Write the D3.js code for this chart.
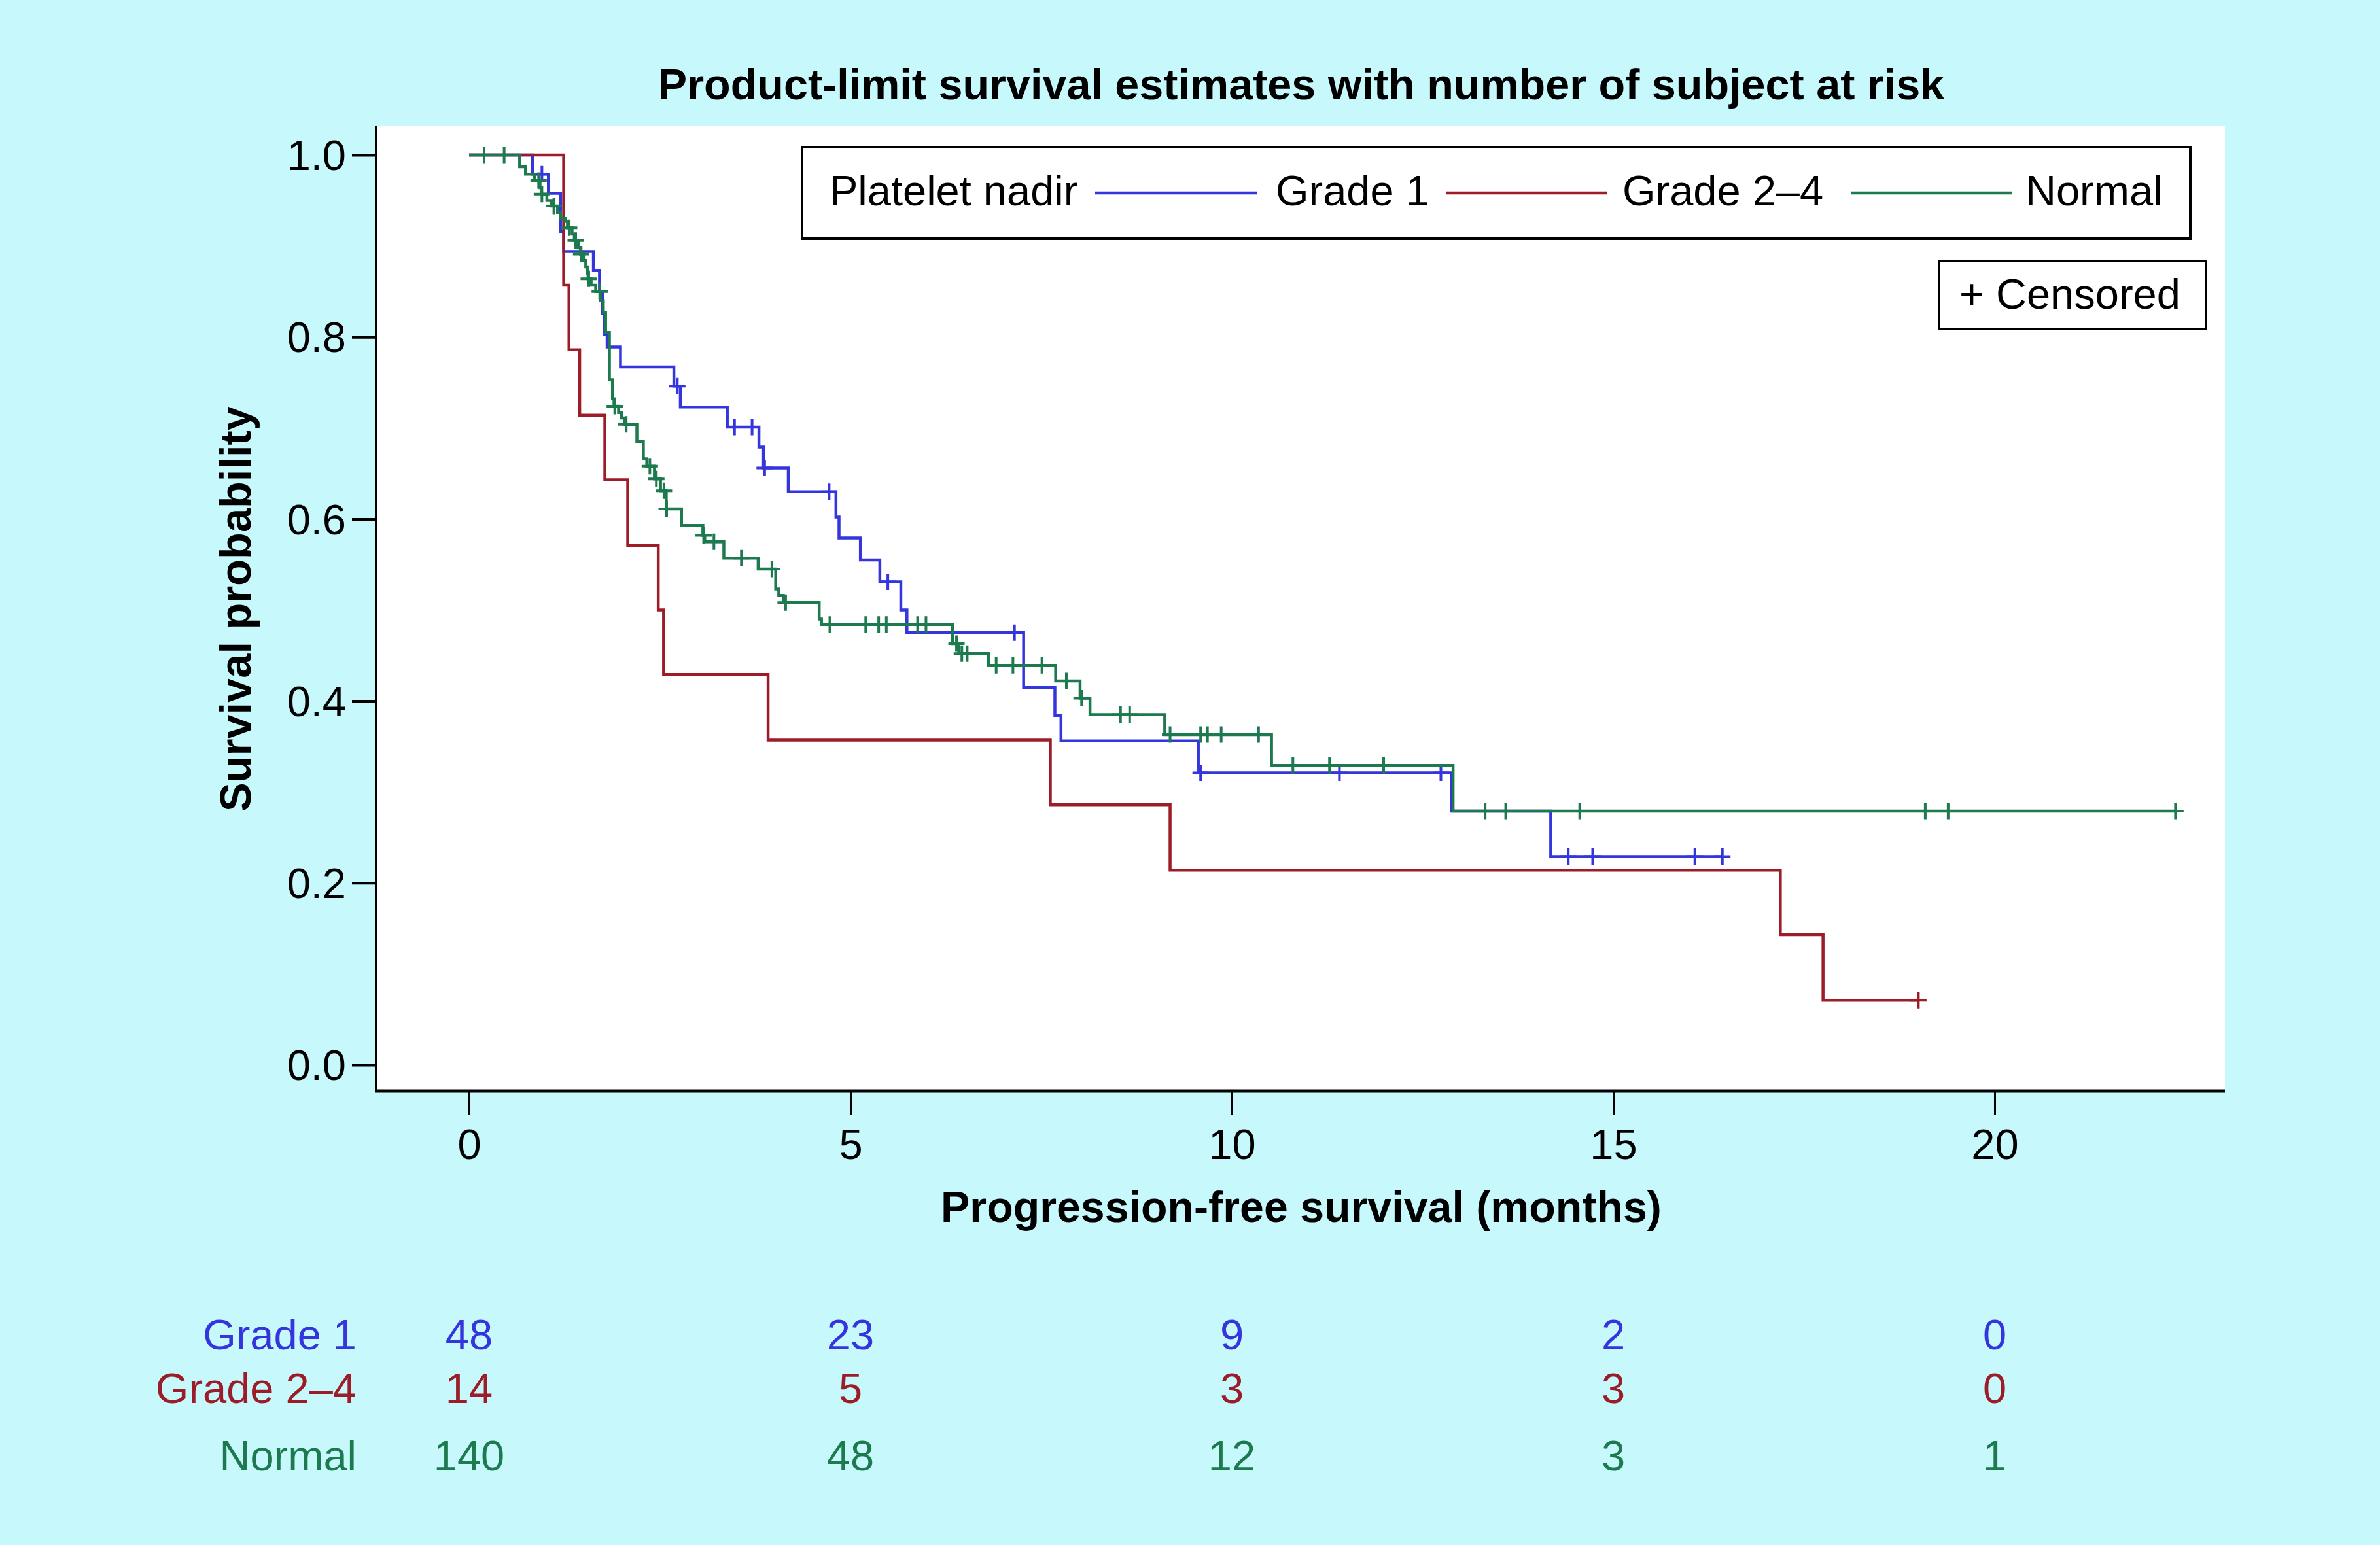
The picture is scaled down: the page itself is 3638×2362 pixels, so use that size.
<!DOCTYPE html>
<html><head><meta charset="utf-8">
<script src="https://cdn.jsdelivr.net/npm/d3@7"></script>
<style>
body{margin:0;background:#c6f8fc;}
svg{display:block;}
text{font-family:"Liberation Sans",Arial,Helvetica,sans-serif;}
</style>
</head><body>
<svg id="chart" width="3638" height="2362"></svg>
<script>
// ---------------- DATA ----------------
const chartTitle = "Product-limit survival estimates with number of subject at risk";
const xTitle = "Progression-free survival (months)";
const yTitle = "Survival probability";
const legendTitle = "Platelet nadir";
const seriesNames = ["Grade 1", "Grade 2\u20134", "Normal"];

// Grade 1 (Kaplan-Meier steps: time of drop, survival after drop)
const g1Times = [0.83, 1.04, 1.20, 1.24, 1.63, 1.71, 1.75, 1.77, 1.81, 1.985, 2.685, 2.77, 3.385, 3.80, 3.86, 4.185, 4.81, 4.85, 5.13, 5.385, 5.66, 5.74, 7.27, 7.68, 7.76, 9.56, 12.88, 14.18];
const g1Surv  = [0.979, 0.958, 0.916, 0.894, 0.873, 0.850, 0.826, 0.803, 0.789, 0.767, 0.746, 0.723, 0.701, 0.679, 0.656, 0.630, 0.602, 0.579, 0.555, 0.531, 0.500, 0.475, 0.415, 0.384, 0.356, 0.321, 0.279, 0.229];
const g1Censor = [0.955, 2.73, 3.48, 3.71, 3.875, 4.72, 5.49, 7.15, 9.59, 11.41, 12.74, 14.41, 14.73, 16.07, 16.43];
const g1End = 16.43;

// Grade 2-4
const g24Times = [1.24, 1.31, 1.45, 1.78, 2.08, 2.48, 2.55, 3.92, 7.62, 9.19, 17.19, 17.75];
const g24Surv  = [0.857, 0.786, 0.714, 0.643, 0.571, 0.500, 0.429, 0.357, 0.286, 0.214, 0.143, 0.071];
const g24Censor = [19.0];
const g24End = 19.0;

// Normal
const nTimes = [0.663, 0.74, 0.86, 0.93, 0.95, 1.02, 1.08, 1.16, 1.20, 1.26, 1.29, 1.35, 1.38, 1.43, 1.46, 1.50, 1.53, 1.55, 1.56, 1.60, 1.66, 1.72, 1.76, 1.79, 1.84, 1.88, 1.90, 1.96, 2.00, 2.04, 2.20, 2.285, 2.33, 2.43, 2.51, 2.585, 2.785, 3.065, 3.09, 3.34, 3.79, 4.02, 4.06, 4.12, 4.59, 4.62, 6.34, 6.42, 6.81, 7.69, 8.01, 8.14, 9.12, 10.52, 12.90];
const nSurv  = [0.987, 0.979, 0.972, 0.964, 0.957, 0.950, 0.944, 0.937, 0.930, 0.927, 0.920, 0.913, 0.906, 0.898, 0.891, 0.884, 0.877, 0.870, 0.864, 0.857, 0.850, 0.840, 0.827, 0.805, 0.753, 0.732, 0.724, 0.717, 0.711, 0.704, 0.685, 0.666, 0.658, 0.644, 0.631, 0.611, 0.593, 0.582, 0.575, 0.557, 0.545, 0.523, 0.516, 0.508, 0.490, 0.484, 0.463, 0.452, 0.439, 0.422, 0.403, 0.385, 0.363, 0.329, 0.279];
const nCensor = [0.197, 0.46, 0.912, 0.955, 1.112, 1.312, 1.398, 1.469, 1.569, 1.713, 1.91, 2.06, 2.37, 2.455, 2.555, 2.59, 3.075, 3.21, 3.57, 3.97, 4.15, 4.73, 5.20, 5.37, 5.47, 5.88, 5.99, 6.39, 6.46, 6.53, 6.91, 7.13, 7.51, 7.83, 8.03, 8.54, 8.66, 9.19, 9.59, 9.68, 9.86, 10.35, 10.80, 11.28, 11.99, 13.32, 13.59, 14.56, 19.09, 19.39, 22.37];
const nEnd = 22.37;

// Number at risk
const riskTimes = [0, 5, 10, 15, 20];
const riskG1 = [48, 23, 9, 2, 0];
const riskG24 = [14, 5, 3, 3, 0];
const riskNormal = [140, 48, 12, 3, 1];

const xTickValues = [0, 5, 10, 15, 20];
const yTickValues = [0, 0.2, 0.4, 0.6, 0.8, 1.0];

// ---------------- STYLE / LAYOUT ----------------
const colors = ["#3535dd", "#9c1d28", "#1c7a4e"];
const bg = "#c6f8fc";
const fs = 65;

const svg = d3.select("#chart");
svg.append("rect").attr("width", 3638).attr("height", 2362).attr("fill", bg);

const plotL = 575, plotR = 3401, plotT = 192, plotB = 1668;
const x = d3.scaleLinear().domain([0, 20]).range([717, 3049]);
const y = d3.scaleLinear().domain([0, 1]).range([1628, 237]);

svg.append("rect").attr("x", plotL).attr("y", plotT).attr("width", plotR - plotL).attr("height", plotB - plotT).attr("fill", "#fff");

function fitWidth(sel, w) {
  const cur = sel.node().getComputedTextLength();
  const f = parseFloat(sel.attr("font-size"));
  if (cur > 0) sel.attr("font-size", f * w / cur);
}

// Title
const t = svg.append("text").attr("x", 1989).attr("y", 152).attr("text-anchor", "middle")
  .attr("font-weight", "bold").attr("font-size", 60).attr("fill", "#000").text(chartTitle);
fitWidth(t, 1967);

// Axes
const yAxis = d3.axisLeft(y).tickValues(yTickValues).tickFormat(d3.format(".1f")).tickSize(37).tickPadding(9);
const gy = svg.append("g").attr("transform", `translate(${plotL},0)`).call(yAxis);
gy.select(".domain").remove();
gy.selectAll(".tick line").attr("stroke", "#000").attr("stroke-width", 4);
gy.selectAll(".tick text").attr("font-size", fs).attr("fill", "#000").attr("font-family", "Liberation Sans, Arial, sans-serif").attr("dy", "0.35em");

const xAxis = d3.axisBottom(x).tickValues(xTickValues).tickFormat(d3.format("d")).tickSize(37).tickPadding(21);
const gx = svg.append("g").attr("transform", `translate(0,${plotB})`).call(xAxis);
gx.select(".domain").remove();
gx.selectAll(".tick line").attr("stroke", "#000").attr("stroke-width", 3);
gx.selectAll(".tick text").attr("font-size", fs).attr("fill", "#000").attr("font-family", "Liberation Sans, Arial, sans-serif");

// spines
svg.append("line").attr("x1", plotL).attr("x2", plotL).attr("y1", plotT).attr("y2", plotB + 2).attr("stroke", "#000").attr("stroke-width", 4);
svg.append("line").attr("x1", plotL - 2).attr("x2", plotR).attr("y1", plotB).attr("y2", plotB).attr("stroke", "#000").attr("stroke-width", 5);

// Axis titles
const xt = svg.append("text").attr("x", 1989).attr("y", 1868).attr("text-anchor", "middle")
  .attr("font-weight", "bold").attr("font-size", 64).text(xTitle);
fitWidth(xt, 1102);
const yt = svg.append("text").attr("transform", "translate(383,931) rotate(-90)").attr("text-anchor", "middle")
  .attr("font-weight", "bold").attr("font-size", 64).text(yTitle);
fitWidth(yt, 620);

// Curves
const series = [
  {times: g1Times, surv: g1Surv, censor: g1Censor, end: g1End},
  {times: g24Times, surv: g24Surv, censor: g24Censor, end: g24End},
  {times: nTimes, surv: nSurv, censor: nCensor, end: nEnd}
];
const line = d3.line().x(d => x(d[0])).y(d => y(d[1])).curve(d3.curveStepAfter);
function survAt(s, tt) {
  let v = 1;
  for (let i = 0; i < s.times.length; i++) if (s.times[i] <= tt) v = s.surv[i];
  return v;
}
const half = 12.5;
series.forEach((s, i) => {
  const pts = [[0, 1]].concat(s.times.map((tt, k) => [tt, s.surv[k]]));
  pts.push([s.end, s.surv[s.surv.length - 1]]);
  const g = svg.append("g");
  g.append("path").attr("d", line(pts)).attr("fill", "none").attr("stroke", colors[i])
    .attr("stroke-width", 4.5).attr("stroke-linejoin", "miter");
  g.selectAll("path.cens").data(s.censor).join("path").attr("class", "cens")
    .attr("d", c => {
      const cx = x(c), cy = y(survAt(s, c));
      return `M${cx - half},${cy}H${cx + half}M${cx},${cy - half}V${cy + half}`;
    })
    .attr("stroke", colors[i]).attr("stroke-width", 4).attr("fill", "none");
});

// Legend
svg.append("rect").attr("x", 1226).attr("y", 225).attr("width", 2122).attr("height", 140)
  .attr("fill", "#fff").attr("stroke", "#000").attr("stroke-width", 4);
const legBase = 314, legLineY = 295;
svg.append("text").attr("x", 1268).attr("y", legBase).attr("font-size", fs).text(legendTitle);
const legLineX = [1674, 2210, 2829];
const legTextX = [1950, 2480, 3096];
seriesNames.forEach((n, i) => {
  svg.append("line").attr("x1", legLineX[i]).attr("x2", legLineX[i] + 247).attr("y1", legLineY).attr("y2", legLineY)
    .attr("stroke", colors[i]).attr("stroke-width", 4.5);
  svg.append("text").attr("x", legTextX[i]).attr("y", legBase).attr("font-size", fs).text(n);
});
svg.append("rect").attr("x", 2964).attr("y", 399).attr("width", 408).attr("height", 104)
  .attr("fill", "#fff").attr("stroke", "#000").attr("stroke-width", 4);
svg.append("text").attr("x", 2995).attr("y", 472).attr("font-size", fs).text("+ Censored");

// At-risk table
const riskRows = [riskG1, riskG24, riskNormal];
const rowBase = [2063, 2145, 2248];
riskRows.forEach((row, i) => {
  svg.append("text").attr("x", 545).attr("y", rowBase[i]).attr("text-anchor", "end")
    .attr("font-size", fs).attr("fill", colors[i]).text(seriesNames[i]);
  svg.selectAll(null).data(row).join("text")
    .attr("x", (d, k) => x(riskTimes[k])).attr("y", rowBase[i]).attr("text-anchor", "middle")
    .attr("font-size", fs).attr("fill", colors[i]).text(d => d);
});
</script>
</body></html>
